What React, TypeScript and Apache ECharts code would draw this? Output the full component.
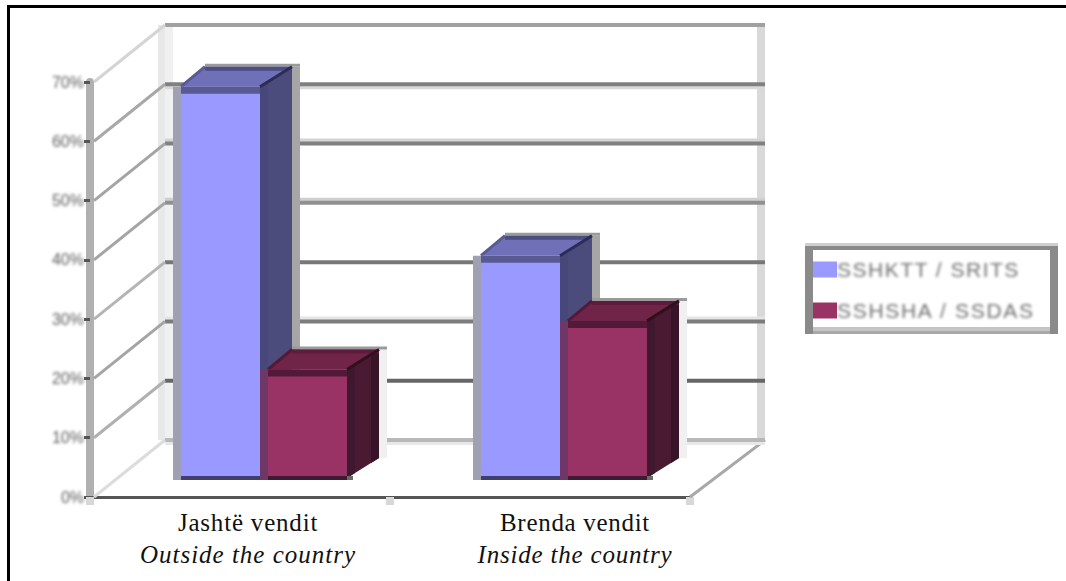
import React, { useEffect, useRef } from "react";
import * as echarts from "echarts";

const categories = ["Jashtë vendit", "Brenda vendit"];
const categoriesEn = ["Outside the country", "Inside the country"];
const seriesNames = ["SSHKTT / SRITS", "SSHSHA / SSDAS"];
const valuesFirst = [66, 37.5];
const valuesSecond = [18.3, 26.5];
const yTicks = [0, 10, 20, 30, 40, 50, 60, 70];

// wall line colour per tick, halo colour, halo side
const wallLine = ["#b8b8b8", "#666666", "#7c7c7c", "#777777", "#909090", "#808080", "#808080", "#a0a0a0"];
const wallHalo = ["#e8e8e8", "", "#e4e4e4", "", "#cfcfcf", "#d4d4d4", "#d8d8d8", ""];
const haloSide = [1, 0, -1, 0, -1, -1, 1, 0];
const diagLine = ["#dcdcdc", "#b0b0b0", "#a4a4a4", "#b4b4b4", "#a4a4a4", "#a4a4a4", "#a8a8a8", "#d4d4d4"];

const WALL_DX = 75;
const WALL_DY = -57;
const BAR_DX = 32;
const BAR_DY = 20;
const STRIP = 8;

const paletteBlue = {
  front: "#9999ff", strip: "#a0a0b4", band: "#5a5a92", bottom: "#3f3f6e", top: "#7070b8",
  side: "#4b4b7c", sideA: "#47477a", sideB: "#4b4b7c", edge: "#2c2c58", backEdge: "#4d4d80", shadow: "#a6a6a6",
};
const paletteRed = {
  front: "#993366", strip: "#6e3766", band: "#521a38", bottom: "#401a33", top: "#6f2448",
  side: "#4a1a33", sideA: "#3f1830", sideB: "#381428", edge: "#30101f", backEdge: "#5e1c3c", shadow: "#f0f0f0",
};

const rect = (x: number, y: number, width: number, height: number, fill: string) => ({
  type: "rect", shape: { x, y, width, height }, style: { fill },
});
const poly = (points: number[][], fill: string) => ({
  type: "polygon", shape: { points }, style: { fill },
});
const line = (x1: number, y1: number, x2: number, y2: number, stroke: string, lineWidth: number) => ({
  type: "line", shape: { x1, y1, x2, y2 }, style: { stroke, lineWidth, fill: null },
});

function renderWall(params: any, api: any) {
  const i = params.dataIndex;
  const v = api.value(0);
  const x0 = params.coordSys.x;
  const x1 = x0 + params.coordSys.width;
  const y = api.coord([0, v])[1];
  const children: any[] = [];
  if (v === 0) {
    const topY = api.coord([0, 70])[1] + WALL_DY;
    const backL = x0 + WALL_DX;
    const backR = x1 + WALL_DX;
    const backB = y + WALL_DY;
    children.push(rect(backL - 7, topY, 7, backB - topY, "#e8e8e8"));
    children.push(rect(backL, topY, 8, backB - topY, "#f0f0f0"));
    children.push(rect(backR - 8, topY, 8, backB - topY, "#d9d9d9"));
    children.push(line(x1, y, backR, backB, "#a8a8a8", 3));
  }
  const by = y + WALL_DY;
  if (wallHalo[i]) {
    children.push(rect(x0 + WALL_DX, by + haloSide[i] * 3 - 2, x1 - x0, 4, wallHalo[i]));
  }
  children.push(rect(x0 + WALL_DX, by - 2, x1 - x0, 4, wallLine[i]));
  children.push(line(x0 + 4, y, x0 + WALL_DX, by, diagLine[i], 3));
  return { type: "group", children };
}

const renderBar = (seriesIndex: number, p: typeof paletteBlue) => (_params: any, api: any) => {
  const cat = api.value(0);
  const [cx, yVal] = api.coord([cat, api.value(1)]);
  const yBase = api.coord([cat, 0])[1];
  const w = api.size([1, 0])[0] * 0.29;
  const x0 = cx + 20 - (seriesIndex === 0 ? w : 0);
  const xr = x0 + w;
  const yt = yVal - 19;
  const yb = yBase - 19;
  return {
    type: "group",
    children: [
      rect(xr + BAR_DX, yt - BAR_DY, STRIP, yb - yt, p.shadow),
      rect(x0 + BAR_DX, yt - BAR_DY - 3, w + STRIP, 3, "#9a9a9a"),
      poly([[xr, yt], [xr + BAR_DX, yt - BAR_DY], [xr + BAR_DX, yb - BAR_DY], [xr, yb]], p.side),
      poly([[xr, yt], [xr + STRIP, yt - 5], [xr + STRIP, yb - 5], [xr, yb]], p.sideA),
      poly([[xr + BAR_DX - STRIP, yt - BAR_DY + 5], [xr + BAR_DX, yt - BAR_DY], [xr + BAR_DX, yb - BAR_DY], [xr + BAR_DX - STRIP, yb - BAR_DY + 5]], p.sideB),
      poly([[x0 + STRIP, yt], [xr, yt], [xr + BAR_DX, yt - BAR_DY], [x0 + BAR_DX, yt - BAR_DY]], p.top),
      rect(x0 + BAR_DX, yt - BAR_DY, w, 4, p.backEdge),
      line(xr, yt, xr + BAR_DX, yt - BAR_DY, p.edge, 3),
      line(x0 + STRIP, yt, x0 + BAR_DX, yt - BAR_DY, p.band, 3),
      rect(x0, yt, STRIP, yb - yt + 2, p.strip),
      rect(x0 + STRIP, yt, w - STRIP, yb - yt, p.front),
      rect(x0 + STRIP, yt, w - STRIP, 7, p.band),
      rect(x0 + STRIP, yb - 2, w - STRIP, 4, p.bottom),
      rect(xr, yb - 2, 6, 4, "#6a6a6a"),
    ],
  };
};

const catFormatter = (_: string, index: number) =>
  `{a${index}|${categories[index]}}\n{b${index}|${categoriesEn[index]}}`;

const labelStyle = (pad: number, italic: boolean) => ({
  fontFamily: "Liberation Serif",
  fontSize: 25,
  lineHeight: 32,
  color: "#111111",
  fontStyle: italic ? "italic" : "normal",
  padding: [0, 0, 0, pad],
});

const letterSpacing: Record<string, string> = {
  [categories[0]]: "0.8px",
  [categories[1]]: "0.7px",
  [categoriesEn[0]]: "1px",
  [categoriesEn[1]]: "0.8px",
  [seriesNames[0]]: "1.5px",
  [seriesNames[1]]: "1.7px",
};

function polishTexts(root: HTMLElement) {
  root.querySelectorAll("text").forEach((t) => {
    const s = t.textContent || "";
    const el = t as unknown as HTMLElement;
    if (letterSpacing[s]) el.style.letterSpacing = letterSpacing[s];
    if (!categories.includes(s) && !categoriesEn.includes(s)) el.style.filter = "blur(1.5px)";
  });
}

export default function App() {
  const ref = useRef<HTMLDivElement>(null);
  useEffect(() => {
    const el = ref.current!;
    const chart = echarts.init(el, undefined, { renderer: "svg" });
    chart.setOption({
      animation: false,
      backgroundColor: "#ffffff",
      grid: { left: 90, top: 82, width: 600, height: 415 },
      xAxis: {
        type: "category",
        data: categories,
        axisLine: { lineStyle: { color: "#555555", width: 3 } },
        axisTick: { show: true, alignWithLabel: false, length: 8, lineStyle: { color: "#d8d8d8", width: 8 } },
        axisLabel: {
          interval: 0,
          margin: 9,
          formatter: catFormatter,
          rich: {
            a0: labelStyle(16, false),
            b0: labelStyle(16, true),
            a1: labelStyle(70, false),
            b1: labelStyle(70, true),
          },
        },
        splitLine: { show: false },
      },
      yAxis: {
        type: "value",
        min: 0,
        max: 70,
        interval: 10,
        axisLine: { show: true, lineStyle: { color: "#b0b0b0", width: 8 } },
        axisTick: { show: true, length: 6, lineStyle: { color: "#555555", width: 3 } },
        axisLabel: {
          margin: 6,
          formatter: "{value}%",
          fontFamily: "Liberation Sans",
          fontSize: 16,
          color: "#606060",
        },
        splitLine: { show: false },
      },
      legend: {
        orient: "vertical",
        left: 813,
        top: 259,
        padding: 0,
        itemWidth: 24,
        itemHeight: 16,
        itemGap: 20,
        textStyle: { fontFamily: "Liberation Sans", fontSize: 21, color: "#707070", padding: [0, 0, 0, -5] },
        data: [
          { name: seriesNames[0], icon: "rect" },
          { name: seriesNames[1], icon: "rect" },
        ],
      },
      series: [
        {
          type: "custom",
          name: "wall",
          renderItem: renderWall,
          encode: { y: 0 },
          data: yTicks.map((v) => [v]),
          silent: true,
          z: 1,
        },
        {
          type: "custom",
          name: seriesNames[0],
          renderItem: renderBar(0, paletteBlue),
          encode: { x: 0, y: 1 },
          itemStyle: { color: paletteBlue.front },
          data: valuesFirst.map((v, i) => [i, v]),
          z: 2,
        },
        {
          type: "custom",
          name: seriesNames[1],
          renderItem: renderBar(1, paletteRed),
          encode: { x: 0, y: 1 },
          itemStyle: { color: paletteRed.front },
          data: valuesSecond.map((v, i) => [i, v]),
          z: 3,
        },
      ],
      graphic: [
        { type: "rect", shape: { x: 7, y: 5, width: 1059, height: 3 }, style: { fill: "#000000" } },
        { type: "rect", shape: { x: 7, y: 5, width: 3, height: 576 }, style: { fill: "#000000" } },
        { type: "rect", shape: { x: 805, y: 243, width: 253, height: 3 }, style: { fill: "#cfcfcf" } },
        { type: "rect", shape: { x: 805, y: 246, width: 253, height: 4 }, style: { fill: "#8a8a8a" } },
        { type: "rect", shape: { x: 805, y: 327, width: 253, height: 4 }, style: { fill: "#c4c4c4" } },
        { type: "rect", shape: { x: 805, y: 331, width: 253, height: 3 }, style: { fill: "#a8a8a8" } },
        { type: "rect", shape: { x: 805, y: 246, width: 8, height: 88 }, style: { fill: "#8a8a8a" } },
        { type: "rect", shape: { x: 1050, y: 246, width: 8, height: 88 }, style: { fill: "#8a8a8a" } },
      ],
    });
    polishTexts(el);
    chart.on("finished", () => polishTexts(el));
    return () => chart.dispose();
  }, []);
  return <div ref={ref} style={{ position: "absolute", left: 0, top: 0, width: 1066, height: 581 }} />;
}
